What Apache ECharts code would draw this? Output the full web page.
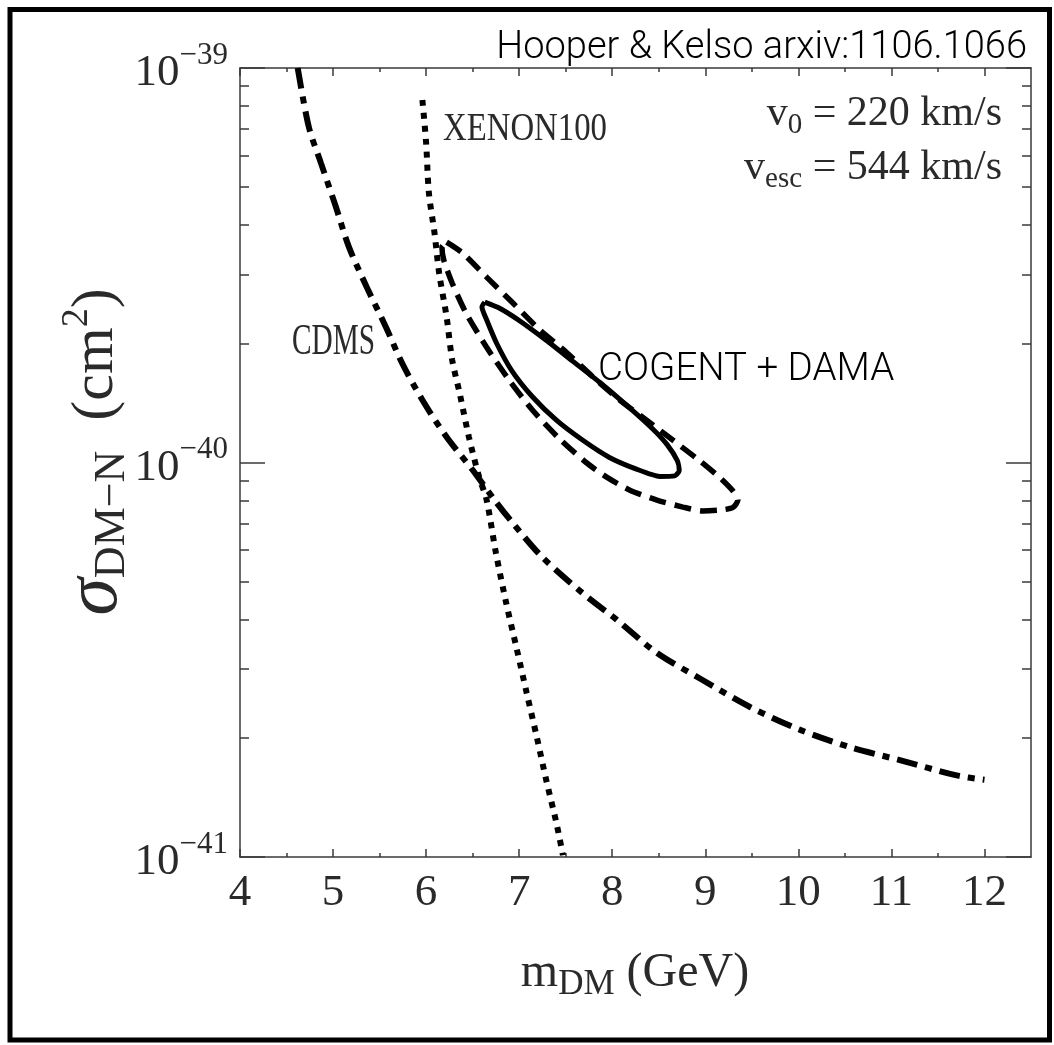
<!DOCTYPE html>
<html><head><meta charset="utf-8">
<script src="https://cdn.jsdelivr.net/npm/echarts@6/dist/echarts.min.js"></script>
<style>html,body{margin:0;padding:0;background:#fff}#c{width:1054px;height:1045px}</style>
</head><body><div id="c"></div>
<script>
// ---- data (mass in GeV, cross-section in cm^2) ----
const cdmsMass  = [4.62,4.74,4.87,5.03,5.17,5.36,5.57,5.74,5.96,6.22,6.50,6.71,6.93,7.25,7.68,8.05,8.48,8.97,9.48,10.02,10.55,11.09,11.70,12.00];
const cdmsSigma = [1.0e-39,7.08e-40,5.74e-40,4.45e-40,3.52e-40,2.79e-40,2.20e-40,1.79e-40,1.44e-40,1.16e-40,9.57e-41,8.18e-41,7.03e-41,5.75e-41,4.67e-41,3.99e-41,3.29e-41,2.81e-41,2.40e-41,2.10e-41,1.90e-41,1.76e-41,1.61e-41,1.57e-41];

const xenonMass  = [5.96,6.00,6.03,6.09,6.14,6.22,6.28,6.36,6.46,6.57,6.65,6.75,6.86,6.97,7.08,7.19,7.29,7.40,7.47];
const xenonSigma = [8.30e-40,6.46e-40,4.82e-40,3.82e-40,3.02e-40,2.34e-40,1.82e-40,1.50e-40,1.16e-40,9.18e-41,8.04e-41,5.90e-41,4.41e-41,3.40e-41,2.61e-41,2.01e-41,1.57e-41,1.22e-41,1.01e-41];

const outerMass  = [6.22,6.39,6.65,6.93,7.22,7.51,7.79,8.08,8.37,8.65,8.94,9.15,9.30,9.35,9.30,9.19,8.97,8.76,8.48,8.19,7.94,7.72,7.43,7.14,6.89,6.65,6.43,6.28,6.19,6.17,6.22];
const outerSigma = [3.62e-40,3.40e-40,2.95e-40,2.54e-40,2.17e-40,1.90e-40,1.65e-40,1.44e-40,1.28e-40,1.14e-40,1.01e-40,9.18e-41,8.45e-41,8.03e-41,7.70e-41,7.59e-41,7.54e-41,7.71e-41,8.03e-41,8.51e-41,9.18e-41,1.00e-40,1.15e-40,1.36e-40,1.62e-40,1.96e-40,2.39e-40,2.85e-40,3.26e-40,3.52e-40,3.62e-40];

const innerMass  = [6.63,6.79,7.00,7.29,7.57,7.86,8.15,8.43,8.59,8.70,8.72,8.67,8.51,8.26,7.97,7.68,7.40,7.14,6.92,6.76,6.65,6.60,6.63];
const innerSigma = [2.55e-40,2.46e-40,2.29e-40,2.04e-40,1.81e-40,1.60e-40,1.40e-40,1.22e-40,1.11e-40,1.01e-40,9.55e-41,9.25e-41,9.22e-41,9.62e-41,1.03e-40,1.14e-40,1.28e-40,1.47e-40,1.71e-40,2.00e-40,2.30e-40,2.48e-40,2.55e-40];

// ---- ticks ----
const xMajorTicks = [4,5,6,7,8,9,10,11,12];
const xMinorTicks = [4.5,5.5,6.5,7.5,8.5,9.5,10.5,11.5];
const yDecades = [-41,-40,-39];          // log10 of sigma
const yMinorMantissas = [2,3,4,5,6,7,8,9];

const yMinorTicks = [];
[-41,-40].forEach(d => yMinorMantissas.forEach(m => yMinorTicks.push(d + Math.log10(m))));

const toPts = (ms, ss) => ms.map((m, i) => [m, Math.log10(ss[i])]);

const SERIF = "'Liberation Serif','Times New Roman',serif";
const SANS = "Roboto,'Liberation Sans',Helvetica,Arial,sans-serif";
const AX = '#3a3a3a';
const TXT = '#2a2a2a';

const chart = echarts.init(document.getElementById('c'), null, {renderer: 'canvas'});

function xAx(pos, ticks, len, labels) {
  return {
    type: 'value', position: pos, min: 4, max: 12.5,
    axisLine: {show: labels !== null, lineStyle: {color: AX, width: 1.5}},
    axisTick: {show: true, inside: true, length: len, customValues: ticks, lineStyle: {color: AX, width: 1.5}},
    axisLabel: labels ? {show: true, customValues: xMajorTicks, margin: 14, fontFamily: SERIF, fontSize: 45, color: TXT,
      formatter: v => String(v)} : {show: false},
    splitLine: {show: false}
  };
}
function yAx(pos, ticks, len, labels) {
  return {
    type: 'value', position: pos, min: -41, max: -39, interval: 1,
    axisLine: {show: labels !== null, lineStyle: {color: AX, width: 1.5}},
    axisTick: {show: true, inside: true, length: len, customValues: ticks, lineStyle: {color: AX, width: 1.5}},
    axisLabel: labels ? {show: true, margin: 12, color: TXT, fontFamily: SERIF,
      formatter: v => '{b|10}{s|\u2212' + Math.abs(Math.round(v)) + '}',
      rich: {
        b: {fontFamily: SERIF, fontSize: 45, color: TXT, lineHeight: 56, verticalAlign: 'bottom'},
        s: {fontFamily: SERIF, fontSize: 31, color: TXT, verticalAlign: 'top'}
      }} : {show: false},
    splitLine: {show: false}
  };
}

const option = {
  animation: false,
  backgroundColor: '#fff',
  grid: {left: 240, right: 23, top: 68, bottom: 188, containLabel: false},
  xAxis: [
    xAx('bottom', xMajorTicks, 8, true),
    xAx('bottom', xMinorTicks, 4, null),
    xAx('top', xMajorTicks, 8, false),
    xAx('top', xMinorTicks, 4, null)
  ],
  yAxis: [
    yAx('left', yDecades, 25, true),
    yAx('left', yMinorTicks, 9, null),
    yAx('right', yDecades, 25, false),
    yAx('right', yMinorTicks, 9, null)
  ],
  series: [
    {name: 'CDMS', type: 'line', xAxisIndex: 0, yAxisIndex: 0, data: toPts(cdmsMass, cdmsSigma),
     showSymbol: false, symbol: 'none', smooth: 0.3,
     lineStyle: {color: '#000', width: 6, type: [21, 8, 7, 8], cap: 'butt'}},
    {name: 'XENON100', type: 'line', xAxisIndex: 0, yAxisIndex: 0, data: toPts(xenonMass, xenonSigma),
     showSymbol: false, symbol: 'none', smooth: 0.3,
     lineStyle: {color: '#000', width: 6, type: [6, 7], cap: 'butt'}},
    {name: 'COGENT+DAMA outer', type: 'line', xAxisIndex: 0, yAxisIndex: 0, data: toPts(outerMass, outerSigma),
     showSymbol: false, symbol: 'none', smooth: 0.25,
     lineStyle: {color: '#000', width: 5.5, type: [17, 9], cap: 'butt'}},
    {name: 'COGENT+DAMA inner', type: 'line', xAxisIndex: 0, yAxisIndex: 0, data: toPts(innerMass, innerSigma),
     showSymbol: false, symbol: 'none', smooth: 0.2,
     lineStyle: {color: '#000', width: 5, type: 'solid', join: 'round'}}
  ],
  graphic: [
    {type: 'rect', shape: {x: 10, y: 9.5, width: 1039.5, height: 1030.5}, style: {fill: 'none', stroke: '#000', lineWidth: 5}, z: 10},
    {type: 'text', x: 1027, y: 48, style: {text: 'Hooper & Kelso arxiv:1106.1066', fontFamily: SANS, fontWeight: 300, fontSize: 38, fill: '#000', align: 'right', verticalAlign: 'middle'}},
    {type: 'text', x: 598, y: 370, style: {text: 'COGENT + DAMA', fontFamily: SANS, fontWeight: 300, fontSize: 38.5, fill: '#000', align: 'left', verticalAlign: 'middle'}},
    {type: 'text', x: 443, y: 129, scaleX: 0.8, style: {text: 'XENON100', fontFamily: SERIF, fontSize: 41, fill: TXT, align: 'left', verticalAlign: 'middle'}},
    {type: 'text', x: 292, y: 342, scaleX: 0.65, style: {text: 'CDMS', fontFamily: SERIF, fontSize: 45, fill: TXT, align: 'left', verticalAlign: 'middle'}},
    {type: 'text', x: 1002, y: 114, style: {text: '{v|v}{s|0}{v| = 220 km/s}', align: 'right', verticalAlign: 'middle',
      rich: {v: {fontFamily: SERIF, fontSize: 42, fill: TXT, lineHeight: 52}, s: {fontFamily: SERIF, fontSize: 29, fill: TXT, verticalAlign: 'bottom'}}}},
    {type: 'text', x: 1002, y: 168, style: {text: '{v|v}{s|esc}{v| = 544 km/s}', align: 'right', verticalAlign: 'middle',
      rich: {v: {fontFamily: SERIF, fontSize: 42, fill: TXT, lineHeight: 52}, s: {fontFamily: SERIF, fontSize: 29, fill: TXT, verticalAlign: 'bottom'}}}},
    {type: 'text', x: 635, y: 973, style: {text: '{m|m}{s|DM}{m| (GeV)}', align: 'center', verticalAlign: 'middle',
      rich: {m: {fontFamily: SERIF, fontSize: 48, fill: TXT, lineHeight: 58}, s: {fontFamily: SERIF, fontSize: 35, fill: TXT, verticalAlign: 'bottom'}}}},
    {type: 'text', x: 96, y: 452, rotation: Math.PI / 2, style: {text: '{g|\u03C3}{s|DM\u2212N}{m|  (cm}{p|2}{m|)}', align: 'center', verticalAlign: 'middle',
      rich: {g: {fontFamily: SERIF, fontStyle: 'italic', fontSize: 76, fill: TXT, lineHeight: 76},
             s: {fontFamily: SERIF, fontSize: 44, fill: TXT, verticalAlign: 'bottom'},
             m: {fontFamily: SERIF, fontSize: 60, fill: TXT},
             p: {fontFamily: SERIF, fontSize: 38, fill: TXT, verticalAlign: 'top'}}}}
  ]
};
chart.setOption(option);
</script></body></html>
